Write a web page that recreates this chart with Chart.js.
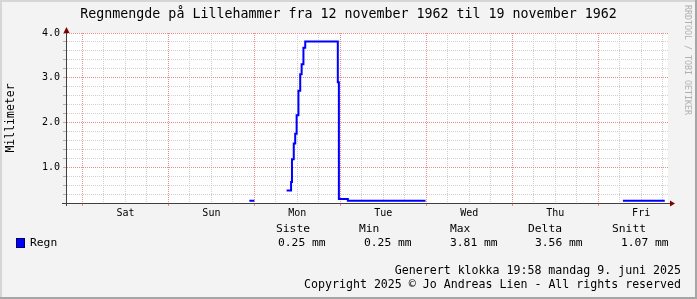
<!DOCTYPE html>
<html>
<head>
<meta charset="utf-8">
<script src="https://cdn.jsdelivr.net/npm/chart.js@4.4.1/dist/chart.umd.min.js"></script>
<style>
body{margin:0;background:#f3f3f3;}
#wrap{position:relative;width:697px;height:299px;overflow:hidden;font-family:"DejaVu Sans Mono",monospace;color:#000;}
#wrap canvas{position:absolute;left:0;top:0;}
.t{position:absolute;white-space:pre;line-height:1;font-size:11.3px;}
.foot{position:absolute;right:16px;white-space:pre;line-height:1;font-size:11.6px;}
#title{position:absolute;left:0;top:7px;width:697px;text-align:center;font-size:13.3px;line-height:1;white-space:pre;}
#mark{position:absolute;left:684px;top:5px;writing-mode:vertical-rl;font-size:8.3px;line-height:1;color:#b0b0b0;white-space:pre;}
#swatch{position:absolute;left:16px;top:238px;width:7px;height:8px;background:#0000ff;border:1px solid #000060;box-sizing:content-box;}
</style>
</head>
<body>
<div id="wrap">
  <canvas id="rainChart" width="697" height="299"></canvas>
  <div id="title">Regnmengde på Lillehammer fra 12 november 1962 til 19 november 1962</div>
  <div id="mark">RRDTOOL / TOBI OETIKER</div>
  <div id="legend"></div>
  <div class="foot" style="top:265px">Generert klokka 19:58 mandag 9. juni 2025</div>
  <div class="foot" style="top:279px">Copyright 2025 © Jo Andreas Lien - All rights reserved</div>
</div>
<script>
// ---- data ----
// x = hours counted from Saturday 00:00
const dayNames = ["Sat", "Sun", "Mon", "Tue", "Wed", "Thu", "Fri"];
const hours  = [46.6, 48.0, 52.0, 57.0, 58.25, 58.5, 59.0, 59.4, 59.8, 60.3, 60.8, 61.2, 61.7, 62.2, 71.3, 71.6, 74.1, 95.8, 120.0, 150.9, 162.6];
const rainMm = [0.25, 0.25, null, 0.48, 0.67, 1.18, 1.53, 1.75, 2.16, 2.71, 3.08, 3.30, 3.67, 3.81, 2.90, 0.29, 0.25, 0.25, null, 0.25, 0.25];
const seriesName = "Regn";
const statNames  = ["Siste", "Min", "Max", "Delta", "Snitt"];
const statValues = [0.25, 0.25, 3.81, 3.56, 1.07];

// ---- legend / stats ----
const headX = [276, 359, 450, 528, 612];
const valX  = [278, 364, 450, 535, 621];
let legendHtml = `<div id="swatch"></div><div class="t" style="left:30px;top:237px">${seriesName}</div>`;
statNames.forEach((n, i) => {
  legendHtml += `<div class="t" style="left:${headX[i]}px;top:223px">${n}</div>`;
  legendHtml += `<div class="t" style="left:${valX[i]}px;top:237px">${statValues[i].toFixed(2)} mm</div>`;
});
document.getElementById("legend").innerHTML = legendHtml;

// ---- chart ----
const FONT = "DejaVu Sans Mono";
const minorGrid = "#d0d0d0";
const majorGrid = "#ea8c8c";
const axisColor = "#404040";

const isWhole = v => Math.abs(v - Math.round(v)) < 1e-6;
const mod24 = v => ((v % 24) + 24) % 24;

const framePlugin = {
  id: "frame",
  beforeDraw(chart) {
    const {ctx, chartArea: a} = chart;
    ctx.save();
    ctx.fillStyle = "#f3f3f3";
    ctx.fillRect(0, 0, 697, 299);
    ctx.fillStyle = "#d6d6d6";
    ctx.fillRect(0, 0, 697, 2);
    ctx.fillRect(0, 0, 2, 299);
    ctx.fillStyle = "#a6a6a6";
    ctx.fillRect(695, 0, 2, 299);
    ctx.fillRect(0, 297, 697, 2);
    ctx.fillStyle = "#ffffff";
    ctx.fillRect(a.left, a.top, a.right - a.left, a.bottom - a.top);
    ctx.restore();
  },
  afterDraw(chart) {
    const {ctx, chartArea: a} = chart;
    const x0 = a.left + 0.5, y0 = a.bottom + 0.5;
    ctx.save();
    ctx.strokeStyle = axisColor;
    ctx.lineWidth = 1;
    ctx.beginPath();
    ctx.moveTo(x0, a.top - 1); ctx.lineTo(x0, a.bottom + 3);
    ctx.moveTo(a.left - 4, y0); ctx.lineTo(a.right + 2, y0);
    ctx.stroke();
    ctx.fillStyle = "#7f0000";
    ctx.beginPath();
    ctx.moveTo(x0, a.top - 6); ctx.lineTo(x0 - 3, a.top); ctx.lineTo(x0 + 3, a.top);
    ctx.closePath(); ctx.fill();
    ctx.beginPath();
    ctx.moveTo(a.right + 7, y0); ctx.lineTo(a.right + 2, y0 - 3); ctx.lineTo(a.right + 2, y0 + 3);
    ctx.closePath(); ctx.fill();
    ctx.restore();
  }
};

new Chart(document.getElementById("rainChart"), {
  type: "line",
  data: {
    datasets: [{
      label: seriesName,
      data: hours.map((h, i) => ({x: h, y: rainMm[i]})),
      borderColor: "#0000ff",
      borderWidth: 2,
      stepped: "before",
      pointRadius: 0,
      spanGaps: false,
      fill: false,
      borderCapStyle: "butt",
      borderJoinStyle: "miter"
    }]
  },
  options: {
    responsive: false,
    animation: false,
    layout: {padding: {left: 0, top: 33, right: 29, bottom: 76}},
    plugins: {legend: {display: false}, tooltip: {enabled: false}, title: {display: false}},
    scales: {
      x: {
        type: "linear",
        min: -4.6,
        max: 163.5,
        afterFit: s => { s.height = 20; },
        ticks: {
          stepSize: 6,
          includeBounds: false,
          autoSkip: false,
          maxRotation: 0,
          padding: 1,
          color: "#000",
          font: {family: FONT, size: 10},
          callback: v => mod24(v) === 12 ? dayNames[Math.round((v - 12) / 24)] : ""
        },
        grid: {
          color: c => c.tick && mod24(c.tick.value) === 0 ? majorGrid : minorGrid,
          tickColor: c => c.tick && mod24(c.tick.value) === 0 ? majorGrid : "rgba(0,0,0,0)",
          tickLength: 3
        },
        border: {color: axisColor, width: 1, dash: [1, 1]}
      },
      y: {
        type: "linear",
        min: 0.2,
        max: 4.0,
        afterFit: s => { s.width = 66; },
        ticks: {
          stepSize: 0.2,
          autoSkip: false,
          padding: 3,
          color: "#000",
          font: {family: FONT, size: 10},
          callback: v => (isWhole(v) && v >= 1) ? v.toFixed(1) : ""
        },
        grid: {
          color: c => c.tick && isWhole(c.tick.value) ? majorGrid : minorGrid,
          tickColor: "#b0b0b0",
          tickLength: 3
        },
        border: {color: axisColor, width: 1, dash: [1, 1]},
        title: {
          display: true,
          text: "Millimeter",
          color: "#000",
          font: {family: FONT, size: 11.5},
          padding: {top: 4, bottom: 4}
        }
      }
    }
  },
  plugins: [framePlugin]
});
</script>
</body>
</html>
